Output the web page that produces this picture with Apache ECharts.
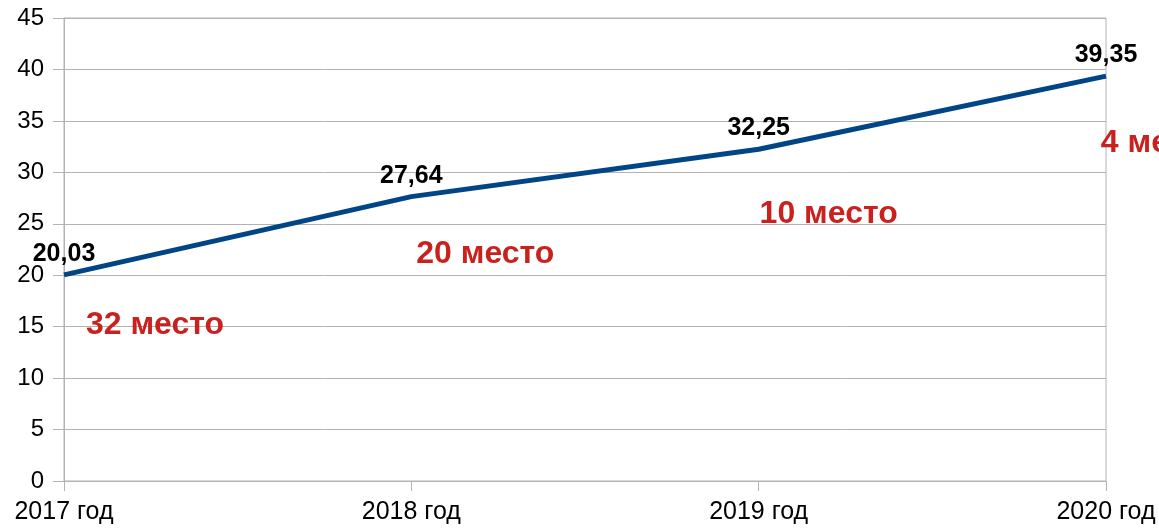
<!DOCTYPE html>
<html>
<head>
<meta charset="utf-8">
<script src="https://cdn.jsdelivr.net/npm/echarts@6/dist/echarts.min.js"></script>
<style>
html,body{margin:0;padding:0;background:#fff;}
#chart{width:1159px;height:528px;}
</style>
</head>
<body>
<div id="chart"></div>
<script>
var years = ['2017 год', '2018 год', '2019 год', '2020 год'];
var values = [20.03, 27.64, 32.25, 39.35];
var places = ['32 место', '20 место', '10 место', '4 место'];
var yTicks = [0, 5, 10, 15, 20, 25, 30, 35, 40, 45];

var chart = echarts.init(document.getElementById('chart'));
var font = '"Liberation Sans", Arial, sans-serif';
// offsets of the red place labels relative to the point
var placeOffsets = [[91, 50], [74, 58], [70, 65], [55, 67]];

var placeData = values.map(function (v, i) {
	return {
		value: v,
		label: {offset: placeOffsets[i]}
	};
});

var option = {
	animation: false,
	grid: {
		left: 64,
		right: 53,
		top: 18,
		bottom: 47,
		show: true,
		borderColor: '#b3b3b3',
		borderWidth: 1
	},
	xAxis: {
		type: 'category',
		boundaryGap: false,
		data: years,
		axisLine: {lineStyle: {color: '#b3b3b3'}},
		axisTick: {show: true, length: 10, lineStyle: {color: '#b3b3b3'}},
		axisLabel: {color: '#000', fontSize: 25, fontFamily: font, margin: 19}
	},
	yAxis: {
		type: 'value',
		min: yTicks[0],
		max: yTicks[yTicks.length - 1],
		interval: 5,
		axisLine: {show: true, lineStyle: {color: '#b3b3b3'}},
		axisTick: {show: true, length: 11, lineStyle: {color: '#b3b3b3'}},
		splitLine: {lineStyle: {color: '#b3b3b3'}},
		axisLabel: {color: '#000', fontSize: 24, fontFamily: font, margin: 20}
	},
	series: [
		{
			type: 'line',
			data: values,
			symbol: 'circle',
			symbolSize: 1,
			itemStyle: {color: 'rgba(0,0,0,0)'},
			lineStyle: {color: '#004586', width: 5},
			label: {
				show: true,
				position: 'top',
				distance: 8,
				color: '#000',
				fontWeight: 'bold',
				fontSize: 25,
				fontFamily: font,
				formatter: function (p) {
					return p.value.toFixed(2).replace('.', ',');
				}
			},
			z: 3
		},
		{
			type: 'line',
			data: placeData,
			symbol: 'circle',
			symbolSize: 1,
			itemStyle: {color: 'rgba(0,0,0,0)'},
			lineStyle: {opacity: 0},
			label: {
				show: true,
				position: 'inside',
				align: 'center',
				verticalAlign: 'middle',
				color: '#c9211e',
				fontWeight: 'bold',
				fontSize: 32,
				fontFamily: font,
				formatter: function (p) {
					return places[p.dataIndex];
				}
			},
			z: 4
		}
	]
};
chart.setOption(option);
</script>
</body>
</html>
